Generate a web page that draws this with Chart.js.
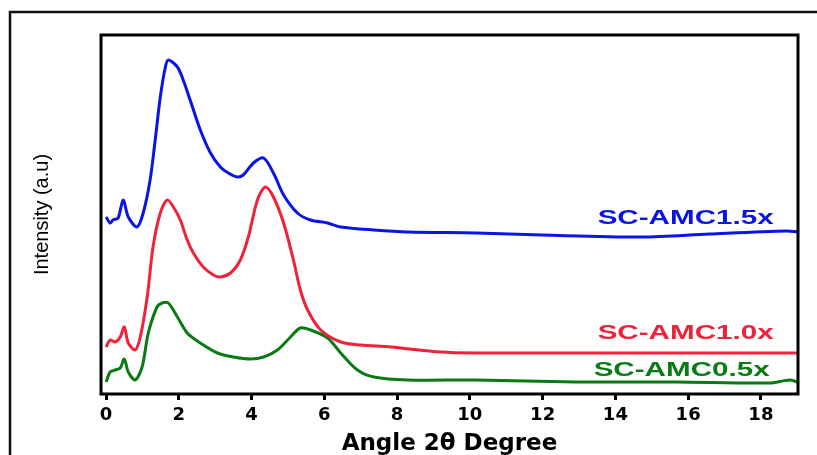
<!DOCTYPE html>
<html>
<head>
<meta charset="utf-8">
<script src="https://cdn.jsdelivr.net/npm/chart.js@4/dist/chart.umd.min.js"></script>
<style>
  html, body { margin: 0; padding: 0; background: #fff; }
  canvas { display: block; }
</style>
</head>
<body>
<canvas id="xrdChart" width="817" height="455"></canvas>
<script>
// Data (intensity in arbitrary units)
const seriesNames = ['SC-AMC1.5x', 'SC-AMC1.0x', 'SC-AMC0.5x'];
const xTicks = [0, 2, 4, 6, 8, 10, 12, 14, 16, 18];

const blueX = [0, 0.11, 0.19, 0.33, 0.47, 0.61, 0.85, 1.02, 1.21, 1.35, 1.49, 1.63, 1.71, 1.96, 2.12, 2.31, 2.59, 2.87, 3.14, 3.36, 3.61, 3.77, 4.05, 4.33, 4.60, 4.88, 5.26, 5.62, 6.09, 6.45, 7.36, 8.29, 10.17, 11.98, 14.74, 16.58, 18.71, 19.01];
const blueY = [177, 171, 174, 176, 194, 177, 167, 181, 214, 254, 297, 327, 334, 327, 314, 294, 264, 241, 227, 221, 217, 219, 231, 236, 221, 199, 181, 174, 171, 167, 164, 162, 161, 159, 157, 160, 163, 162];

const redX = [0, 0.11, 0.25, 0.39, 0.5, 0.61, 0.80, 0.94, 1.13, 1.29, 1.49, 1.68, 1.85, 2.04, 2.23, 2.40, 2.67, 2.95, 3.14, 3.42, 3.69, 3.91, 4.16, 4.38, 4.60, 4.88, 5.15, 5.34, 5.54, 5.90, 6.45, 7.00, 7.82, 9.20, 10.17, 11.98, 14.74, 19.01];
const redY = [47, 54, 52, 57, 67, 51, 44, 57, 97, 147, 181, 194, 187, 174, 154, 141, 127, 119, 117, 121, 134, 157, 194, 207, 197, 171, 134, 104, 84, 64, 52, 49, 47, 42, 41, 41, 41, 41];

const greenX = [0, 0.11, 0.25, 0.39, 0.5, 0.61, 0.80, 0.99, 1.16, 1.40, 1.54, 1.71, 1.96, 2.23, 2.59, 3.06, 3.50, 3.97, 4.33, 4.71, 5.07, 5.34, 5.62, 6.09, 6.45, 6.91, 7.36, 8.29, 10.17, 12.92, 15.67, 18.24, 18.79, 19.01];
const greenY = [12, 22, 24, 26, 35, 22, 14, 27, 61, 87, 91, 91, 77, 61, 51, 41, 37, 35, 37, 44, 57, 66, 64, 56, 41, 24, 17, 14, 14, 12, 12, 11, 14, 12];

// where the curve names sit (right end, in data units)
const nameAnchorX = [18.35, 18.35, 18.24];
const nameAnchorY = [176, 61, 24];

const colors = ['#0a14e6', '#ee2238', '#0a7a14'];

function toPoints(xs, ys) {
    return xs.map((x, i) => ({ x: x, y: ys[i] }));
}

// Outer frame + plot box + curve names
const framePlugin = {
    id: 'framePlugin',
    beforeDraw(chart) {
        const ctx = chart.ctx;
        ctx.save();
        ctx.fillStyle = '#fff';
        ctx.fillRect(0, 0, chart.width, chart.height);
        ctx.strokeStyle = '#111';
        ctx.lineWidth = 2.5;
        ctx.strokeRect(10, 12, 900, 600);
        ctx.restore();
    },
    afterDraw(chart) {
        const { ctx, chartArea: a, scales } = chart;
        ctx.save();
        ctx.strokeStyle = '#000';
        ctx.lineWidth = 3;
        ctx.strokeRect(a.left, a.top, a.right - a.left, a.bottom - a.top);

        ctx.font = 'bold 20px "Liberation Sans", Arial, sans-serif';
        ctx.textAlign = 'right';
        ctx.textBaseline = 'middle';
        seriesNames.forEach((name, i) => {
            const px = scales.x.getPixelForValue(nameAnchorX[i]);
            const py = scales.y.getPixelForValue(nameAnchorY[i]);
            ctx.save();
            ctx.translate(px, py);
            ctx.scale(1.48, 1);
            ctx.fillStyle = colors[i];
            ctx.fillText(name, 0, 0);
            ctx.restore();
        });
        ctx.restore();
    }
};

const ctx = document.getElementById('xrdChart').getContext('2d');
const xrdChart = new Chart(ctx, {
    type: 'line',
    data: {
        datasets: [
            { label: seriesNames[0], data: toPoints(blueX, blueY), borderColor: colors[0] },
            { label: seriesNames[1], data: toPoints(redX, redY), borderColor: colors[1] },
            { label: seriesNames[2], data: toPoints(greenX, greenY), borderColor: colors[2] }
        ]
    },
    options: {
        responsive: false,
        animation: false,
        parsing: false,
        layout: { padding: { top: 35, right: 19, bottom: 0, left: 0 } },
        elements: {
            point: { radius: 0 },
            line: { borderWidth: 3, tension: 0.3, fill: false }
        },
        plugins: {
            legend: { display: false },
            tooltip: { enabled: false }
        },
        scales: {
            x: {
                type: 'linear',
                min: -0.14,
                max: 19.02,
                afterBuildTicks: scale => { scale.ticks = xTicks.map(v => ({ value: v })); },
                afterFit: scale => { scale.height = 61; },
                border: { display: false },
                grid: {
                    drawOnChartArea: false,
                    drawTicks: true,
                    tickLength: 6,
                    lineWidth: 3,
                    color: '#000'
                },
                ticks: {
                    color: '#000',
                    padding: 5,
                    maxRotation: 0,
                    font: { family: '"DejaVu Sans", sans-serif', size: 18, weight: 'bold' }
                },
                title: {
                    display: true,
                    text: 'Angle 2θ Degree',
                    color: '#000',
                    padding: { top: 0, bottom: -1 },
                    font: { family: '"DejaVu Sans", sans-serif', size: 23, weight: 'bold', lineHeight: 1 }
                }
            },
            y: {
                min: 0,
                max: 359,
                afterFit: scale => { scale.width = 101; },
                border: { display: false },
                grid: { display: false },
                ticks: { display: false },
                title: {
                    display: true,
                    text: 'Intensity (a.u)',
                    color: '#000',
                    padding: { top: 32, bottom: 0 },
                    font: { family: '"Liberation Sans", Arial, sans-serif', size: 20, lineHeight: 1 }
                }
            }
        }
    },
    plugins: [framePlugin]
});
</script>
</body>
</html>
